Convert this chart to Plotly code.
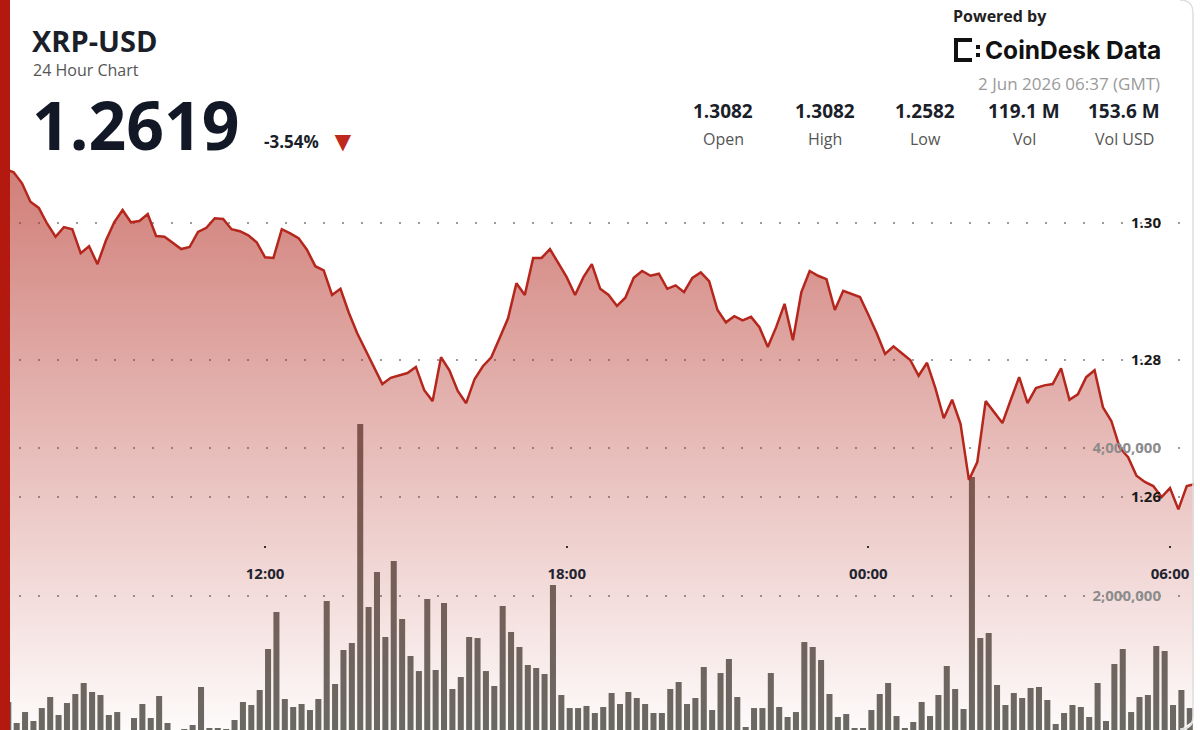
import pandas as pd
import plotly.graph_objects as go

W, H = 1200, 730

#10 minute buckets, 06:40 on 1 Jun up to 06:30 on 2 Jun
times = pd.date_range("2026-06-01 06:40", periods=144, freq="10min")

#Price (close of every bucket)
price = [
    1.3082, 1.3079, 1.3074, 1.3058, 1.3031, 1.3022, 1.2999, 1.2980, 1.2994, 1.2991,
    1.2956, 1.2966, 1.2940, 1.2974, 1.3001, 1.3019, 1.3001, 1.3003, 1.3013, 1.2981,
    1.2980, 1.2971, 1.2962, 1.2965, 1.2987, 1.2993, 1.3007, 1.3006, 1.2991, 1.2988,
    1.2982, 1.2972, 1.2950, 1.2949, 1.2991, 1.2985, 1.2978, 1.2961, 1.2937, 1.2931,
    1.2895, 1.2904, 1.2869, 1.2839, 1.2815, 1.2791, 1.2765, 1.2774, 1.2778, 1.2781,
    1.2790, 1.2756, 1.2740, 1.2804, 1.2785, 1.2755, 1.2737, 1.2772, 1.2791, 1.2804,
    1.2832, 1.2861, 1.2912, 1.2895, 1.2949, 1.2949, 1.2962, 1.2942, 1.2921, 1.2895,
    1.2921, 1.2940, 1.2904, 1.2895, 1.2879, 1.2891, 1.2920, 1.2930, 1.2923, 1.2926,
    1.2904, 1.2909, 1.2899, 1.2920, 1.2928, 1.2915, 1.2873, 1.2855, 1.2864, 1.2858,
    1.2863, 1.2848, 1.2819, 1.2848, 1.2882, 1.2829, 1.2899, 1.2930, 1.2923, 1.2918,
    1.2873, 1.2901, 1.2896, 1.2892, 1.2866, 1.2839, 1.2809, 1.2820, 1.2810, 1.2800,
    1.2777, 1.2796, 1.2759, 1.2715, 1.2742, 1.2707, 1.2625, 1.2651, 1.2740, 1.2724,
    1.2708, 1.2742, 1.2775, 1.2737, 1.2759, 1.2763, 1.2765, 1.2788, 1.2742, 1.2750,
    1.2775, 1.2785, 1.2731, 1.2711, 1.2672, 1.2658, 1.2631, 1.2622, 1.2616, 1.2600,
    1.2613, 1.2582, 1.2616, 1.2619,
]

#Volume per bucket
volume = [
    595000, 568000, 284000, 432000, 311000, 486000, 635000, 392000, 554000, 676000,
    824000, 703000, 662000, 392000, 432000, 150000, 351000, 541000, 351000, 649000,
    284000, 160000, 203000, 257000, 770000, 216000, 216000, 203000, 324000, 568000,
    527000, 730000, 1284000, 1784000, 608000, 500000, 541000, 459000, 608000, 1932000,
    811000, 1270000, 1365000, 4324000, 1851000, 2324000, 1446000, 2473000, 1689000, 1189000,
    986000, 1959000, 1000000, 1905000, 743000, 905000, 1446000, 1432000, 986000, 784000,
    1865000, 1514000, 1311000, 1068000, 1027000, 946000, 2149000, 662000, 486000, 486000,
    514000, 419000, 500000, 689000, 541000, 703000, 622000, 541000, 419000, 419000,
    743000, 838000, 541000, 622000, 1041000, 459000, 959000, 1149000, 635000, 230000,
    486000, 486000, 959000, 500000, 365000, 432000, 1378000, 1311000, 1135000, 676000,
    365000, 405000, 216000, 216000, 459000, 676000, 824000, 378000, 216000, 297000,
    568000, 378000, 662000, 1054000, 743000, 473000, 3608000, 1432000, 1500000, 797000,
    527000, 689000, 622000, 757000, 770000, 595000, 270000, 419000, 527000, 500000,
    365000, 824000, 311000, 1081000, 1284000, 432000, 635000, 662000, 1324000, 1257000,
    527000, 730000, 486000, 892000,
]

price_ticks = [1.26, 1.28, 1.30]
volume_ticks = [2000000, 4000000]
time_ticks = ["2026-06-01 12:00", "2026-06-01 18:00", "2026-06-02 00:00", "2026-06-02 06:00"]

stat_values = ["1.3082", "1.3082", "1.2582", "119.1 M", "153.6 M"]
stat_labels = ["Open", "High", "Low", "Vol", "Vol USD"]

RED = "#b5261c"
GRID = "rgba(90,90,90,0.6)"


#Pixel position -> paper coordinates (plot area covers the whole page)
def px(x):
    return x / W


def py(y):
    return (H - y) / H


def add_text(fig, x, y, text, size, color, xanchor="left", family="Open Sans"):
    fig.add_annotation(
        x=px(x), y=py(y), xref="paper", yref="paper",
        text=text, showarrow=False, xanchor=xanchor, yanchor="middle",
        font=dict(size=size, color=color, family=family),
        borderpad=0,
    )


def add_box(fig, x0, y0, x1, y1, color):
    fig.add_shape(
        type="rect", xref="paper", yref="paper",
        x0=px(x0), x1=px(x1), y0=py(y1), y1=py(y0),
        fillcolor=color, line=dict(width=0), layer="above",
    )


#Path in page pixels -> paper path string
def add_path(fig, points, fill=None, line=None):
    parts = []
    for cmd, coords in points:
        xy = " ".join("{:.5f},{:.5f}".format(px(a), py(b)) for a, b in coords)
        parts.append(cmd + " " + xy)
    fig.add_shape(
        type="path", xref="paper", yref="paper", path=" ".join(parts),
        fillcolor=fill if fill else "rgba(0,0,0,0)",
        line=line if line else dict(width=0), layer="above",
    )


fig = go.Figure()

#Volume bars, under the price fill
fig.add_bar(
    x=times, y=volume, yaxis="y",
    width=432000, offset=0,
    marker=dict(color="#686a64", line=dict(width=0)),
)

#Price line with gradient fill
fig.add_scatter(
    x=times, y=price, yaxis="y2",
    mode="lines",
    line=dict(color=RED, width=2.5),
    fill="tozeroy",
    fillgradient=dict(
        type="vertical", start=1.226, stop=1.3082,
        colorscale=[[0, "rgba(178,40,30,0.02)"], [1, "rgba(178,40,30,0.6)"]],
    ),
)

fig.update_layout(
    width=W, height=H,
    margin=dict(l=0, r=0, t=0, b=0),
    paper_bgcolor="white", plot_bgcolor="white",
    showlegend=False,
    font=dict(family="Open Sans"),
    xaxis=dict(
        range=["2026-06-01 06:43:42", "2026-06-02 06:35:48"],
        tickvals=time_ticks, tickformat="%H:%M",
        anchor="free", position=py(545),
        showgrid=False, showline=False, zeroline=False,
        ticks="outside", ticklen=2, tickwidth=2, tickcolor="#333",
        tickfont=dict(size=15, color="#1f2430", weight="bold"),
        ticklabelstandoff=13,
    ),
    yaxis=dict(
        range=[189189, 10054044],
        side="left", anchor="free", position=px(1161),
        tickvals=volume_ticks, tickformat=",d", ticks="",
        tickfont=dict(size=15, color="#8c8c8c", weight="bold"),
        showgrid=True, gridcolor=GRID, gridwidth=1.5, griddash="1.5px,17.5px",
        zeroline=False, showline=False,
    ),
    yaxis2=dict(
        range=[1.22599, 1.33256], overlaying="y",
        side="left", anchor="free", position=px(1161),
        tickvals=price_ticks, tickformat=".2f", ticks="",
        tickfont=dict(size=15, color="#1a1a1a", weight="bold"),
        showgrid=True, gridcolor=GRID, gridwidth=1.5, griddash="1.5px,17.5px",
        zeroline=False, showline=False,
    ),
)

#Left red accent bar
add_box(fig, 0, 0, 10, H, "#b3190f")

#Card edge on the right: white outside, thin grey rounded border
add_box(fig, 1194, 0, W, H, "white")
add_path(fig, [("M", [(1180, H)]), ("Q", [(1194, H), (1194, 716)]), ("L", [(W, 716), (W, H)]), ("Z", [])],
         fill="white")
add_path(fig, [("M", [(1180, 0)]), ("Q", [(1193, 0), (1193, 13)]), ("L", [(1193, 716)]),
               ("Q", [(1193, H - 1), (1180, H - 1)])],
         line=dict(color="#dedede", width=1.5))

#Header, left side
add_text(fig, 31, 40, "<b>XRP-USD</b>", 29, "#1b1f2a")
add_text(fig, 32, 70, "24 Hour Chart", 16, "#555555")
add_text(fig, 31, 124, "<b>1.2619</b>", 66, "#121826")
add_text(fig, 263, 141, "<b>-3.54%</b>", 17, "#1b1f2a")
add_text(fig, 343, 140, "▼", 28, "#c0271d", xanchor="center")

#Header, right side
add_text(fig, 952, 16, "<b>Powered by</b>", 16, "#222222")
add_text(fig, 984, 50, "<b>CoinDesk Data</b>", 24.5, "#111111", family="Inter")
add_text(fig, 1161, 83, "2 Jun 2026 06:37 (GMT)", 17, "#9a9a9a", xanchor="right")

#CoinDesk bracket logo
add_box(fig, 954, 38, 958, 62, "#111111")
add_box(fig, 954, 38, 972, 42, "#111111")
add_box(fig, 954, 58, 972, 62, "#111111")
add_box(fig, 976, 45, 980, 49, "#111111")
add_box(fig, 976, 53, 980, 57, "#111111")

#Stats row
stat_x = [723, 825, 925, 1024, 1124]
for sx, val, lab in zip(stat_x, stat_values, stat_labels):
    add_text(fig, sx, 111, "<b>" + val + "</b>", 19, "#1b1f2a", xanchor="center")
    add_text(fig, sx, 139, lab, 16, "#555555", xanchor="center")

#Page body has a default margin, drop it so the chart sits at the corner
fig.write_html("out.html", config={"displayModeBar": False},
               post_script="document.body.style.margin='0';")
